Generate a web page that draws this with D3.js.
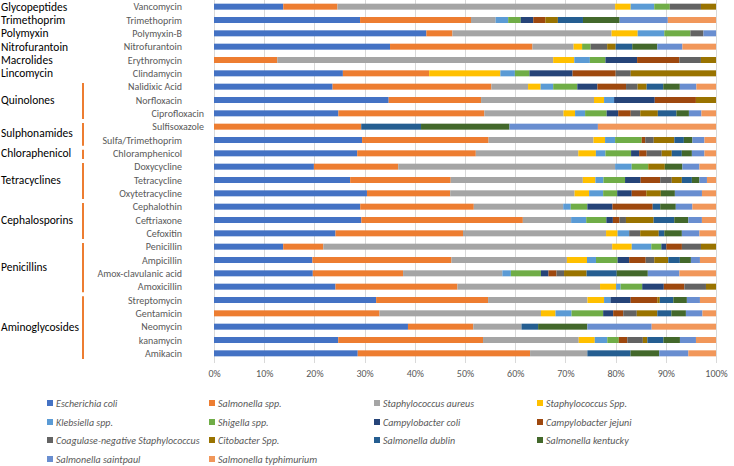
<!DOCTYPE html>
<html><head><meta charset="utf-8">
<script src="https://cdn.jsdelivr.net/npm/d3@7"></script>
<style>
body{margin:0;background:#fff;}
text{font-family:Carlito,Lato,"Liberation Sans",sans-serif;}
</style></head>
<body><svg id="chart" width="734" height="466"></svg>
<script>
const drugs = ["Vancomycin","Trimethoprim","Polymyxin-B","Nitrofurantoin","Erythromycin","Clindamycin",
  "Nalidixic Acid","Norfloxacin","Ciprofloxacin","Sulfisoxazole","Sulfa/Trimethoprim","Chloramphenicol",
  "Doxycycline","Tetracycline","Oxytetracycline","Cephalothin","Ceftriaxone","Cefoxitin",
  "Penicillin","Ampicillin","Amox-clavulanic acid","Amoxicillin",
  "Streptomycin","Gentamicin","Neomycin","kanamycin","Amikacin"];
const groupNames = ["Glycopeptides","Trimethoprim","Polymyxin","Nitrofurantoin","Macrolides","Lincomycin",
  "Quinolones","Sulphonamides","Chloraphenicol","Tetracyclines","Cephalosporins","Penicillins","Aminoglycosides"];
const groupSizes = [1,1,1,1,1,1,3,2,1,3,3,4,5];
const seriesNames = ["Escherichia coli","Salmonella spp.","Staphylococcus aureus","Staphylococcus Spp.",
  "Klebsiella spp.","Shigella spp.","Campylobacter coli","Campylobacter jejuni",
  "Coagulase-negative Staphylococcus","Citobacter Spp.","Salmonella dublin","Salmonella kentucky",
  "Salmonella saintpaul","Salmonella typhimurium"];
const seriesColors = ["#4472C4","#ED7D31","#A5A5A5","#FFC000","#5B9BD5","#70AD47","#264478","#9E480E",
  "#636363","#997300","#255E91","#43682B","#698ED0","#F1975A"];
const xTicks = [0,0.1,0.2,0.3,0.4,0.5,0.6,0.7,0.8,0.9,1];

const ecoli    = [13.8,29.1,42.3,35.1,0,25.7,23.6,34.8,24.8,0,29.5,28.5,19.9,27.1,30.5,29.1,29.3,24.2,13.8,19.6,19.7,24.2,32.3,0,38.6,24.8,28.6];
const salSpp   = [10.8,22.1,5.2,28.4,12.6,17.2,31.6,18.4,29.1,29.3,25.2,23.6,16.8,20.0,16.6,22.6,32.1,25.4,8.0,27.7,18.0,24.3,22.3,33.0,13.0,28.9,34.3];
const staphA   = [55.3,4.9,31.7,8.2,54.9,0,7.3,22.5,15.8,0,20.9,20.4,43.2,26.3,24.8,17.8,9.6,28.5,57.6,23.0,19.8,28.4,19.8,32.2,9.6,19.1,11.4];
const staphSpp = [3.1,0,5.2,1.7,4.2,14.2,2.5,2.0,2.3,0,2.3,3.5,0,2.5,2.9,0,0,2.3,3.9,4.0,0,3.2,3.3,2.9,0,3.2,0];
const kleb     = [4.7,2.5,5.3,0,3.1,2.9,2.5,2.0,2.0,0,2.0,1.9,3.3,1.6,2.8,1.5,3.0,2.3,3.9,1.8,1.7,0.9,1.3,3.2,0,2.5,0];
const shig     = [3.1,2.5,5.2,1.7,3.1,2.9,4.8,0,4.3,0,5.3,5.1,3.3,4.3,2.8,3.3,4.0,0,2.0,4.3,6.0,4.3,0,6.3,0,2.3,0];
const campColi = [0,2.5,0,0,6.3,8.6,4.0,8.1,2.3,0,0,1.6,0,3.1,2.9,5.0,1.3,0,1.0,2.3,1.5,4.3,4.0,2.0,0,0,0];
const campJej  = [0,2.4,0,0,8.4,8.6,5.7,8.2,2.5,0,0.7,1.5,0,3.9,2.9,8.0,1.3,0,3.1,3.3,1.6,4.1,5.3,2.0,0,1.7,0];
const coag     = [6.2,0,2.6,3.3,4.3,3.0,2.3,0,1.9,0,1.7,3.0,0,2.3,0,0,1.3,2.2,3.8,1.7,1.5,4.3,0,2.7,0,3.1,0];
const cito     = [3.0,2.5,0,1.7,3.0,17.0,1.8,4.0,3.5,0,4.1,2.0,3.3,2.0,2.9,0,5.5,3.7,3.0,2.8,4.5,2.0,0.5,4.1,0,0.9,0];
const dublin   = [0,5.0,0,3.3,0,0,3.3,0,3.7,11.9,1.9,2.0,0,2.0,0,1.5,4.1,1.1,0,2.3,6.0,0,2.7,2.8,3.3,3.2,8.6];
const kentucky = [0,7.3,0,5.0,0,0,3.3,0,2.5,17.6,1.7,2.0,3.5,1.5,2.8,3.1,2.8,3.5,0,2.2,6.2,0,2.7,2.9,9.8,3.3,5.7];
const saintpaul= [0,9.6,2.5,5.0,0,0,3.3,0,2.5,17.6,2.4,2.5,3.4,1.5,5.4,3.3,2.7,3.5,0,1.8,6.3,0,2.6,3.3,12.8,3.2,5.8];
const typh     = [0,9.6,0,6.7,0,0,3.9,0,2.9,23.5,2.3,2.3,3.3,1.8,2.8,4.7,2.8,3.3,0,3.2,7.3,0,3.2,2.7,12.8,4.0,5.5];

const seriesValues = [ecoli,salSpp,staphA,staphSpp,kleb,shig,campColi,campJej,coag,cito,dublin,kentucky,saintpaul,typh];

const svg = d3.select("#chart");
const plotLeft = 214, plotRight = 716, plotTop = 0, plotBottom = 360;

const table = drugs.map((d,i)=>{
  const o = {drug:d};
  seriesNames.forEach((s,j)=>{ o[s] = seriesValues[j][i]; });
  return o;
});
const stacked = d3.stack().keys(seriesNames).offset(d3.stackOffsetExpand)(table);

const x = d3.scaleLinear().domain([0,1]).range([plotLeft,plotRight]);
const y = d3.scaleBand().domain(drugs).range([plotTop,plotBottom]).paddingInner(0.55).paddingOuter(0.275);

// gridlines
svg.append("g").selectAll("line").data(xTicks).join("line")
  .attr("x1",d=>Math.round(x(d))+0.5).attr("x2",d=>Math.round(x(d))+0.5).attr("y1",0).attr("y2",363)
  .attr("stroke","#D9D9D9").attr("stroke-width",1);

// bars
svg.append("g").selectAll("g").data(stacked).join("g")
  .attr("fill",(d,i)=>seriesColors[i])
  .selectAll("rect").data(d=>d).join("rect")
  .attr("x",d=>x(d[0])).attr("width",d=>Math.max(0,x(d[1])-x(d[0])))
  .attr("y",d=>y(d.data.drug)).attr("height",y.bandwidth());

// x axis
const xAxis = d3.axisBottom(x).tickValues(xTicks).tickFormat(d3.format(".0%")).tickSize(0).tickPadding(0);
const ax = svg.append("g").attr("transform","translate(0,370)").call(xAxis);
ax.select(".domain").remove();
ax.selectAll("text").attr("fill","#595959").style("font-size","10px").attr("dy","0.7em");

// drug labels
const shifted = new Set(["Ciprofloxacin","Sulfisoxazole"]);
svg.append("g").selectAll("text").data(drugs).join("text")
  .attr("x",d=>shifted.has(d)?204:182)
  .attr("y",d=>y(d)+y.bandwidth()/2).attr("dy","0.35em")
  .attr("text-anchor","end").attr("fill","#595959").style("font-size","10px").text(d=>d);

// group labels and brackets
let start = 0;
const step = y.step();
groupNames.forEach((g,i)=>{
  const n = groupSizes[i];
  const y0 = y(drugs[start]) - y.paddingOuter()*step;
  const y1 = y(drugs[start+n-1]) - y.paddingOuter()*step + step;
  const cy = (y(drugs[start]) + y(drugs[start+n-1]))/2 + y.bandwidth()/2;
  svg.append("text").attr("x",1).attr("y",cy).attr("dy","0.35em")
    .attr("fill","#000").style("font-size","11.5px").text(g);
  if (i >= 6) {
    svg.append("line").attr("x1",83).attr("x2",83).attr("y1",y0+3).attr("y2",y1-1)
      .attr("stroke","#ED7D31").attr("stroke-width",2);
  }
  start += n;
});

// legend
const legX = [47,209,374,537];
const legY = [403,422,440,459];
const leg = svg.append("g").selectAll("g").data(seriesNames).join("g")
  .attr("transform",(d,i)=>`translate(${legX[i%4]},${legY[Math.floor(i/4)]})`);
leg.append("rect").attr("x",0).attr("y",-3).attr("width",6).attr("height",6).attr("fill",(d,i)=>seriesColors[i]);
leg.append("text").attr("x",9).attr("y",0).attr("dy","0.35em").attr("fill","#595959")
  .style("font-size","10px").style("font-style","italic").text(d=>d);
</script></body></html>
